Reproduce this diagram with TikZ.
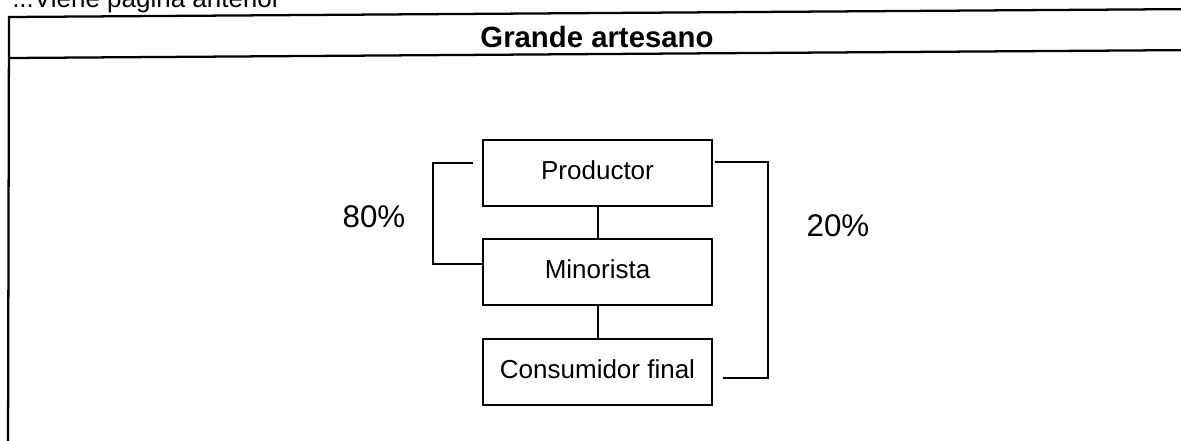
\documentclass[tikz,border=0pt]{standalone}
\usepackage{fontspec}
\setmainfont{Liberation Sans}
\begin{document}
\begin{tikzpicture}[x=0.75pt,y=-0.75pt,
  frameline/.style={line width=1.7pt,black},
  stagebox/.style={draw,line width=1.5pt,minimum width=171.75pt,minimum height=49.5pt,
    inner sep=0pt,font=\fontsize{19.5}{22}\selectfont,text height=14pt,text depth=4pt},
  link/.style={line width=1.5pt},
  bracket/.style={line width=1.2pt},
  pct/.style={font=\fontsize{23.5}{26}\selectfont,anchor=base,inner sep=0pt},
  ttl/.style={font=\fontsize{22}{25}\selectfont\bfseries,anchor=base,inner sep=0pt}]
\useasboundingbox (0,0) rectangle (1181,440);
\clip (0,0) rectangle (1181,440);
% page header (cut off at the top edge, as in the scan)
\node[anchor=base west,inner sep=0pt,font=\fontsize{19.5}{22}\selectfont] (hdr) at (12,7) {...Viene página anterior};
% frame
\coordinate (ftl) at (9,17);
\coordinate (ftr) at (1200,9);
\coordinate (fsl) at (9,58);
\coordinate (fsr) at (1200,50);
\coordinate (fbl) at (8,460);
\draw[frameline] (ftr) -- (ftl) -- (fbl);
\draw[frameline] (fsl) -- (fsr);
\node[ttl] (title) at (597,47) {Grande artesano};
% boxes
\node[stagebox] (prod) at (597.5,173) {Productor};
\node[stagebox] (mino) at (597.5,271.5) {Minorista};
\node[stagebox] (cons) at (597.5,371.5) {Consumidor final};
\draw[link] (prod.south) -- (mino.north);
\draw[link] (mino.south) -- (cons.north);
% left bracket 80%
\coordinate (lt) at (473,163);
\coordinate (lc) at (433,264);
\draw[bracket] (lt) -| (lc) -- (mino.west |- lc);
\node[pct] (p80) at (374,227) {80\%};
% right bracket 20%
\coordinate (rt) at (715,162);
\coordinate (rc) at (768,378);
\coordinate (rb) at (723,378);
\draw[bracket] (rt) -| (rc) -- (rb);
\node[pct] (p20) at (838,236) {20\%};
\end{tikzpicture}
\end{document}
